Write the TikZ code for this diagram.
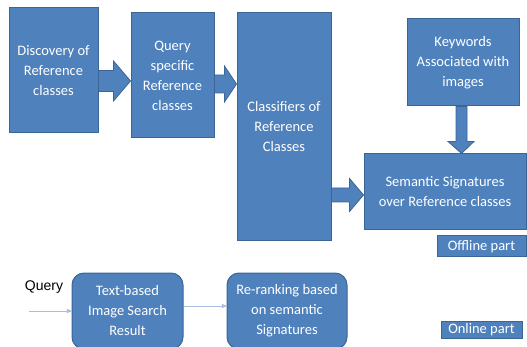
\documentclass[tikz,border=0pt]{standalone}
\usepackage{fontspec}
\setmainfont{Carlito}
\newfontfamily\queryfont{Liberation Sans}
\usetikzlibrary{calc, arrows}
\definecolor{boxfill}{HTML}{4F81BD}
\definecolor{boxline}{HTML}{3A6595}
\definecolor{thinline}{HTML}{A5BFE0}
\tikzstyle{block} = [rectangle, draw=boxline, line width=1pt, fill=boxfill, text=white, align=center, inner sep=0pt, font=\fontsize{14.5}{20}\selectfont]
\tikzstyle{roundblock} = [block, rounded corners=12pt]
\tikzstyle{tag} = [block, font=\fontsize{14.5}{16}\selectfont]
\tikzstyle{fat} = [draw=boxline, line width=0.8pt, fill=boxfill, line join=miter]
\tikzstyle{thin} = [->, >=stealth', draw=thinline, line width=0.8pt]
% fat arrow: from, to, y, shaft half width, head half width, head length
\newcommand{\fatarrow}[6]{%
  \path[fat] ($(#1.east|-0,#3)+(0,-#4)$) -- ($(#2.west|-0,#3)+(-#6,-#4)$)
    -- ($(#2.west|-0,#3)+(-#6,-#5)$) -- (#2.west|-0,#3)
    -- ($(#2.west|-0,#3)+(-#6,#5)$) -- ($(#2.west|-0,#3)+(-#6,#4)$)
    -- ($(#1.east|-0,#3)+(0,#4)$) -- cycle;}
\begin{document}
\begin{tikzpicture}[x=1pt, y=-1pt]
    \useasboundingbox (0,0) rectangle (527,347);
    \node (discovery) [block, minimum width=89pt, minimum height=125pt] at (53.5,70.5) {Discovery of\\Reference\\classes};
    \node (specific) [block, minimum width=83pt, minimum height=125pt] at (172.5,75.5) {Query\\specific\\Reference\\classes};
    \node (classifiers) [block, minimum width=94pt, minimum height=228pt] at (284,127) {Classifiers of\\Reference\\Classes};
    \node (keywords) [block, minimum width=112pt, minimum height=87pt] at (463,62.5) {Keywords\\Associated with\\images};
    \node (signatures) [block, minimum width=162pt, minimum height=76pt] at (445,192) {Semantic Signatures\\over Reference classes};
    \node (offline) [tag, minimum width=89pt, minimum height=21pt] at (481.5,246.5) {Offline part};

    \node (query) [font=\queryfont\fontsize{14}{16}\selectfont] at (44,287) {Query};
    \coordinate (qstart) at (29,311);
    \node (textsearch) [roundblock, minimum width=111pt, minimum height=76pt] at (127.5,311) {Text-based\\Image Search\\Result};
    \node (rerank) [roundblock, minimum width=120pt, minimum height=76pt] at (287,311) {Re-ranking based\\on semantic\\Signatures};
    \node (online) [tag, minimum width=81pt, minimum height=17pt] at (481.5,329.5) {Online part};

    \fatarrow{discovery}{specific}{81}{10.5}{20}{17}
    \fatarrow{specific}{classifiers}{84}{9}{18}{12}
    \fatarrow{classifiers}{signatures}{195}{7}{16.5}{14}
    \path[fat] ($(keywords.south)+(-7,0)$) -- ($(signatures.north-|keywords.south)+(-7,-12)$)
        -- ($(signatures.north-|keywords.south)+(-15,-12)$) -- ($(signatures.north-|keywords.south)+(-1.5,0)$)
        -- ($(signatures.north-|keywords.south)+(11,-12)$) -- ($(signatures.north-|keywords.south)+(4,-12)$)
        -- ($(keywords.south)+(4,0)$) -- cycle;

    \draw [thin] (qstart) -- (textsearch.west|-qstart);
    \draw [thin] ([yshift=5pt]textsearch.east) -- ([yshift=5pt]rerank.west);
\end{tikzpicture}
\end{document}
